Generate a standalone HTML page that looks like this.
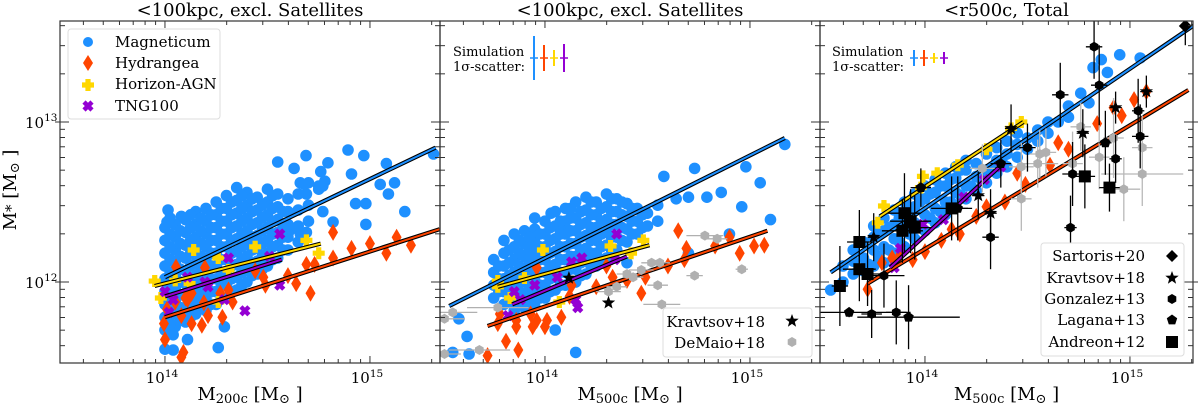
<!DOCTYPE html>
<html><head><meta charset="utf-8"><style>
html,body{margin:0;padding:0;background:#fff;width:1200px;height:404px;overflow:hidden}
svg{display:block;font-family:"DejaVu Serif","Liberation Serif",serif}
</style></head><body>
<svg id="chart" width="1200" height="404" viewBox="0 0 1200 404">
<defs>
<clipPath id="c0"><rect x="60" y="21" width="380" height="342"/></clipPath>
<clipPath id="c1"><rect x="440" y="21" width="380" height="342"/></clipPath>
<clipPath id="c2"><rect x="820" y="21" width="373" height="342"/></clipPath>
</defs>
</svg>
<script>
// ---- data (log10 masses) ----
const panelTitles = ["<100kpc, excl. Satellites","<100kpc, excl. Satellites","<r500c, Total"];
const xTickLabels = ["14","15"];
const yTickLabels = ["12","13"];
const mag1 = [[14.893,12.825],[14.688,12.79],[14.97,12.79],[14.55,12.75],[15.31,12.80],[15.08,12.74],[14.795,12.745],[14.63,12.71],[14.76,12.69],[14.91,12.675],[15.05,12.61],[15.12,12.62],[15.09,12.55],[14.93,12.49],[14.98,12.49],[15.17,12.44],[14.98,12.36],[14.82,12.375],[14.77,12.44],[14.35,12.59],[14.015,12.45],[14.08,12.41],[14.01,12.375],[14.26,11.59],[14.29,11.72],[14.11,11.64],[14.04,11.575],[14.0,11.58],[14.04,11.67],[14.61,12.325],[14.66,12.30],[14.69,12.31],[14.67,12.28],[14.6,12.3],[14.66,12.62],[14.68,12.61],[14.70,12.62],[14.75,12.60],[14.77,12.6],[14.78,12.63],[14.75,12.58],[14.69,12.55],[14.65,12.55],
[14.0,11.70],[14.0,11.78],[14.0,11.86],[14.0,11.94],[14.0,12.02],[14.0,12.10],[14.0,12.18],[14.0,12.26],[14.0,12.34],
[14.05,11.72],[14.05,11.80],[14.05,11.88],[14.05,11.96],[14.05,12.04],[14.05,12.12],[14.05,12.20],[14.05,12.28],[14.05,12.36],
[14.10,11.75],[14.10,11.83],[14.10,11.91],[14.10,11.99],[14.10,12.07],[14.10,12.15],[14.10,12.23],[14.10,12.31],[14.10,12.39],
[14.15,11.80],[14.15,11.88],[14.15,11.96],[14.15,12.04],[14.15,12.12],[14.15,12.20],[14.15,12.28],[14.15,12.36],[14.15,12.44],
[14.20,11.82],[14.20,11.90],[14.20,11.98],[14.20,12.06],[14.20,12.14],[14.20,12.22],[14.20,12.30],[14.20,12.38],[14.20,12.46],
[14.25,11.86],[14.25,11.94],[14.25,12.02],[14.25,12.10],[14.25,12.18],[14.25,12.26],[14.25,12.34],[14.25,12.42],[14.25,12.50],
[14.30,11.90],[14.30,11.98],[14.30,12.06],[14.30,12.14],[14.30,12.22],[14.30,12.30],[14.30,12.38],[14.30,12.46],[14.30,12.54],
[14.35,11.95],[14.35,12.03],[14.35,12.11],[14.35,12.19],[14.35,12.27],[14.35,12.35],[14.35,12.43],[14.35,12.51],
[14.40,12.00],[14.40,12.08],[14.40,12.16],[14.40,12.24],[14.40,12.32],[14.40,12.40],[14.40,12.48],[14.40,12.56],
[14.45,12.05],[14.45,12.13],[14.45,12.21],[14.45,12.29],[14.45,12.37],[14.45,12.45],[14.45,12.53],
[14.50,12.10],[14.50,12.18],[14.50,12.26],[14.50,12.34],[14.50,12.42],[14.50,12.50],[14.50,12.58],
[14.55,12.15],[14.55,12.23],[14.55,12.31],[14.55,12.39],[14.55,12.47],[14.55,12.55],
[14.60,12.20],[14.60,12.28],[14.60,12.36],[14.60,12.44],[14.60,12.52],
[14.65,12.25],[14.65,12.35],[14.65,12.45],[14.70,12.38],[14.70,12.48],
[14.025,11.74],[14.025,11.82],[14.025,11.90],[14.025,11.98],[14.025,12.06],[14.025,12.14],[14.025,12.22],[14.025,12.30],[14.025,12.40],
[14.075,11.76],[14.075,11.84],[14.075,11.92],[14.075,12.00],[14.075,12.08],[14.075,12.16],[14.075,12.24],[14.075,12.32],
[14.125,11.78],[14.125,11.86],[14.125,11.94],[14.125,12.02],[14.125,12.10],[14.125,12.18],[14.125,12.26],[14.125,12.34],[14.125,12.42],
[14.175,11.84],[14.175,11.92],[14.175,12.00],[14.175,12.08],[14.175,12.16],[14.175,12.24],[14.175,12.32],[14.175,12.40],
[14.225,11.86],[14.225,11.94],[14.225,12.02],[14.225,12.10],[14.225,12.18],[14.225,12.26],[14.225,12.34],[14.225,12.42],
[14.275,11.90],[14.275,11.98],[14.275,12.06],[14.275,12.14],[14.275,12.22],[14.275,12.30],[14.275,12.38],[14.275,12.46],
[14.325,11.94],[14.325,12.02],[14.325,12.10],[14.325,12.18],[14.325,12.26],[14.325,12.34],[14.325,12.42],[14.325,12.50],
[14.375,11.98],[14.375,12.06],[14.375,12.14],[14.375,12.22],[14.375,12.30],[14.375,12.38],[14.375,12.46],[14.375,12.54],
[14.425,12.04],[14.425,12.12],[14.425,12.20],[14.425,12.28],[14.425,12.36],[14.425,12.44],[14.425,12.52],
[14.475,12.08],[14.475,12.16],[14.475,12.24],[14.475,12.32],[14.475,12.40],[14.475,12.48],
[14.525,12.14],[14.525,12.22],[14.525,12.30],[14.525,12.38],[14.525,12.46],[14.525,12.54],
[14.575,12.20],[14.575,12.28],[14.575,12.36],[14.575,12.44]];
const hyd1 = [[14.054,12.094],[14.195,12.09],[14.82,12.31],[14.91,12.21],[15.0,12.24],[15.13,12.28],[15.2,12.23],[15.08,12.18],[14.82,12.15],[14.73,12.11],[14.69,12.11],[14.64,11.99],[14.71,11.93],[14.6,12.04],[14.48,12.03],[14.49,11.98],[14.44,12.07],[14.31,11.95],[14.28,11.78],[14.21,11.79],[14.18,11.73],[14.13,11.74],[14.08,11.79],[14.09,11.56],[14.08,11.53],[14.0,11.64],[13.995,11.74],[14.01,11.83],[14.05,11.875],[14.11,11.89],[14.13,11.93],[14.19,11.87],[14.33,11.875],[14.27,11.93],[14.1,11.9]];
const hor1 = [[14.14,12.2],[14.44,12.22],[14.69,12.26],[14.75,12.18],[14.26,12.15],[13.95,12.006],[13.98,11.9],[14.05,12.01],[14.12,11.99],[14.26,11.875],[14.31,12.075]];
const tng1 = [[14.56,12.3],[14.31,12.15],[14.51,12.16],[14.56,11.98],[14.39,11.82],[14.11,12.03],[14.195,12.0],[14.21,11.97],[14.0,11.94],[14.04,11.89],[14.29,11.89],[14.02,11.81]];
const fits1 = {blue:[14.0,12.03,15.32,12.84], red:[14.0,11.78,15.34,12.33], gold:[13.95,11.975,14.76,12.24], violet:[14.0,11.91,14.57,12.14]};

const mag2 = [[15.17,12.86],[14.73,12.71],[14.58,12.66],[14.98,12.72],[15.05,12.62],[14.86,12.56],[14.96,12.47],[15.10,12.39],[14.64,12.52],[14.70,12.53],[14.79,12.53],[14.90,12.30],[14.40,12.49],[13.95,12.40],[14.03,12.43],[14.10,12.34],[14.40,12.12],[14.15,11.56],[14.05,11.70],[13.62,11.66],[13.55,11.56],[13.63,11.55],[13.58,11.77],[14.70,12.18],
[13.75,11.90],[13.75,11.98],[13.75,12.06],[13.75,12.14],
[13.80,11.86],[13.80,11.94],[13.80,12.02],[13.80,12.10],[13.80,12.18],[13.80,12.26],
[13.85,11.82],[13.85,11.90],[13.85,11.98],[13.85,12.06],[13.85,12.14],[13.85,12.22],[13.85,12.30],
[13.90,11.84],[13.90,11.92],[13.90,12.00],[13.90,12.08],[13.90,12.16],[13.90,12.24],[13.90,12.32],
[13.95,11.85],[13.95,11.93],[13.95,12.01],[13.95,12.09],[13.95,12.17],[13.95,12.25],[13.95,12.33],
[14.00,11.90],[14.00,11.98],[14.00,12.06],[14.00,12.14],[14.00,12.22],[14.00,12.30],[14.00,12.38],
[14.05,11.95],[14.05,12.03],[14.05,12.11],[14.05,12.19],[14.05,12.27],[14.05,12.35],[14.05,12.44],
[14.10,11.98],[14.10,12.06],[14.10,12.14],[14.10,12.22],[14.10,12.30],[14.10,12.38],[14.10,12.46],
[14.15,12.00],[14.15,12.08],[14.15,12.16],[14.15,12.24],[14.15,12.32],[14.15,12.40],[14.15,12.50],
[14.20,12.05],[14.20,12.13],[14.20,12.21],[14.20,12.29],[14.20,12.37],[14.20,12.45],[14.20,12.53],
[14.25,12.10],[14.25,12.18],[14.25,12.26],[14.25,12.34],[14.25,12.42],[14.25,12.50],
[14.30,12.15],[14.30,12.23],[14.30,12.31],[14.30,12.39],[14.30,12.47],[14.30,12.55],
[14.35,12.20],[14.35,12.28],[14.35,12.36],[14.35,12.44],[14.35,12.52],
[14.40,12.25],[14.40,12.33],[14.40,12.41],[14.40,12.49],
[14.45,12.30],[14.45,12.38],[14.45,12.46],[14.50,12.35],[14.50,12.43],[14.55,12.38],[14.55,12.48],
[13.775,11.94],[13.775,12.02],[13.775,12.10],
[13.825,11.88],[13.825,11.96],[13.825,12.04],[13.825,12.12],[13.825,12.20],
[13.875,11.86],[13.875,11.94],[13.875,12.02],[13.875,12.10],[13.875,12.18],[13.875,12.26],
[13.925,11.88],[13.925,11.96],[13.925,12.04],[13.925,12.12],[13.925,12.20],[13.925,12.28],
[13.975,11.90],[13.975,11.98],[13.975,12.06],[13.975,12.14],[13.975,12.22],[13.975,12.30],
[14.025,11.94],[14.025,12.02],[14.025,12.10],[14.025,12.18],[14.025,12.26],[14.025,12.34],
[14.075,11.98],[14.075,12.06],[14.075,12.14],[14.075,12.22],[14.075,12.30],[14.075,12.38],
[14.125,12.00],[14.125,12.08],[14.125,12.16],[14.125,12.24],[14.125,12.32],[14.125,12.40],[14.125,12.46],
[14.175,12.04],[14.175,12.12],[14.175,12.20],[14.175,12.28],[14.175,12.36],[14.175,12.44],
[14.225,12.10],[14.225,12.18],[14.225,12.26],[14.225,12.34],[14.225,12.42],[14.225,12.50],
[14.275,12.14],[14.275,12.22],[14.275,12.30],[14.275,12.38],[14.275,12.46],
[14.325,12.20],[14.325,12.28],[14.325,12.36],[14.325,12.44],[14.325,12.52],
[14.375,12.26],[14.375,12.34],[14.375,12.42],[14.375,12.50],
[14.425,12.30],[14.425,12.38],[14.425,12.46],[14.475,12.34],[14.475,12.42]];
const hyd2 = [[14.65,12.32],[14.69,12.21],[14.68,12.14],[14.9,12.28],[14.95,12.18],[15.02,12.225],[15.07,12.23],[14.83,12.225],[14.6,12.1],[14.47,11.93],[14.49,12.03],[14.4,12.01],[14.33,12.03],[14.3,12.1],[14.25,11.97],[14.13,11.98],[14.12,11.91],[14.08,11.78],[14.01,11.76],[14.0,11.72],[13.96,11.76],[13.96,12.09],[13.93,11.8],[13.94,11.72],[13.86,11.76],[13.86,11.72],[13.81,11.63],[13.87,11.575],[13.72,11.54],[13.78,11.8],[13.77,11.74]];
const hor2 = [[13.99,12.2],[14.32,12.225],[14.48,12.26],[14.42,12.18],[13.90,12.025],[13.77,12.006],[13.77,11.97],[13.83,11.9],[14.07,11.875]];
const tng2 = [[14.35,12.3],[14.13,12.125],[14.18,12.15],[14.34,12.14],[14.06,12.03],[13.95,11.98],[13.85,11.94],[13.82,11.79],[14.16,11.84],[14.15,11.89],[13.88,11.89]];
const fits2 = {blue:[13.533,11.85,15.17,12.9], red:[13.72,11.725,15.085,12.32], gold:[13.77,11.97,14.51,12.23], violet:[13.84,11.86,14.4,12.16]};
// DeMaio+18: [lx, ly, xerr]
const demaio2 = [[13.55,11.81,0.12],[13.51,11.77,0.1],[13.77,11.84,0.15],[13.51,11.55,0.08],[13.68,11.575,0.15],[14.31,11.94,0.06],[14.35,11.97,0.05],[14.4,12.05,0.05],[14.47,12.075,0.06],[14.52,12.12,0.05],[14.56,12.12,0.05],[14.55,11.98,0.05],[14.57,11.86,0.09],[14.73,12.04,0.04],[14.78,12.29,0.09],[14.84,12.27,0.05],[14.96,12.08,0.03],[14.43,12.03,0.05]];
const kravtsov2 = [[14.117,12.025],[14.31,11.87]];

const mag3 = [[13.54,11.95],[13.60,12.0],[13.60,12.1],[13.65,12.05],[13.65,12.13],[13.65,12.2],[13.70,12.07],[13.70,12.15],[13.70,12.25],[13.75,12.1],[13.75,12.2],[13.75,12.28],[13.75,12.35],[13.80,12.12],[13.80,12.22],[13.80,12.32],[13.80,12.4],[13.85,12.18],[13.85,12.27],[13.85,12.36],[13.85,12.45],[13.90,12.22],[13.90,12.32],[13.90,12.42],[13.90,12.5],[13.95,12.27],[13.95,12.37],[13.95,12.47],[13.95,12.55],[14.00,12.32],[14.00,12.42],[14.00,12.52],[14.00,12.6],[14.05,12.37],[14.05,12.46],[14.05,12.56],[14.05,12.64],[14.10,12.42],[14.10,12.5],[14.10,12.6],[14.10,12.68],[14.15,12.48],[14.15,12.56],[14.15,12.65],[14.15,12.72],[14.20,12.52],[14.20,12.6],[14.20,12.7],[14.20,12.76],[14.25,12.57],[14.25,12.66],[14.25,12.74],[14.30,12.62],[14.30,12.7],[14.30,12.8],[14.35,12.68],[14.35,12.76],[14.35,12.84],[14.40,12.72],[14.40,12.8],[14.40,12.88],[14.45,12.78],[14.45,12.86],[14.45,12.93],[14.50,12.83],[14.50,12.9],[14.55,12.88],[14.55,12.95],[14.6,12.93],[14.6,13.0],[14.65,13.0],[14.7,13.03],[14.7,13.1],[14.8,13.12],[14.82,13.34],[14.86,13.39],[14.95,13.42],[15.05,13.4],[14.89,13.31],[14.76,13.18],
[13.725,12.11],[13.775,12.16],[13.775,12.30],[13.825,12.20],[13.825,12.34],[13.875,12.25],[13.875,12.40],[13.925,12.30],[13.925,12.45],[13.975,12.34],[13.975,12.50],[14.025,12.40],[14.025,12.55],[14.075,12.44],[14.075,12.60],[14.125,12.50],[14.125,12.64],[14.175,12.54],[14.175,12.70],[14.225,12.60],[14.275,12.64],[14.325,12.70],[14.375,12.76]];
const hyd3 = [[13.72,11.955],[13.79,12.12],[13.88,12.17],[13.94,12.14],[14.0,12.19],[14.08,12.26],[14.17,12.3],[14.13,12.33],[14.25,12.41],[14.3,12.47],[14.39,12.5],[14.49,12.61],[14.45,12.68],[14.61,12.73],[14.65,12.87],[14.7,12.83],[14.84,12.99],[14.92,13.09],[14.96,13.04],[15.02,13.14],[15.08,13.19],[13.84,12.15]];
const hor3 = [[14.47,13.0],[14.42,12.96],[14.3,12.83],[14.16,12.73],[14.06,12.68],[13.99,12.66],[13.8,12.475],[13.77,12.37],[13.98,12.59]];
const tng3 = [[14.37,12.72],[14.29,12.64],[14.19,12.53],[14.09,12.39],[13.99,12.36],[13.88,12.21],[13.85,12.09]];
const fits3 = {blue:[13.54,12.06,15.33,13.62], red:[13.72,11.99,15.285,13.2], gold:[13.78,12.41,14.48,13.0], violet:[13.83,12.09,14.38,12.74]};
// observational: [lx, ly, xerr, yerr]
const grey3 = [[14.47,12.52,0.05,0.2],[14.28,12.71,0.06,0.15],[14.47,12.72,0.06,0.15],[14.56,12.8,0.05,0.15],[14.59,12.81,0.05,0.15],[14.72,12.74,0.05,0.2],[14.76,12.97,0.05,0.15],[14.85,12.78,0.05,0.2],[14.92,12.9,0.05,0.25],[15.06,12.84,0.05,0.2],[15.06,12.675,0.2,0.2],[14.97,12.58,0.08,0.2],[14.55,12.74,0.1,0.15]];
const sartoris3 = [[15.27,13.6,0.0,0.12]];
const gonzalez3 = [[14.825,13.47,0.04,0.2],[14.85,13.23,0.04,0.25],[14.66,13.17,0.04,0.2],[14.5,12.84,0.04,0.15],[15.04,13.07,0.03,0.2],[15.05,12.91,0.04,0.2],[14.93,12.77,0.03,0.15],[14.72,12.675,0.05,0.2],[14.32,12.28,0.04,0.2],[14.71,12.34,0.03,0.2],[13.74,11.8,0.05,0.15],[13.86,11.81,0.05,0.2],[13.8,12.04,0.1,0.2]];
const kravtsov3 = [[15.08,13.19,0.03,0.1],[14.93,13.09,0.03,0.1],[14.77,12.93,0.03,0.15],[14.42,12.96,0.03,0.15],[14.26,12.54,0.03,0.15],[14.32,12.43,0.03,0.15],[13.75,12.28,0.03,0.15]];
const lagana3 = [[14.37,12.74,0.05,0.15],[13.98,12.59,0.05,0.12],[14.16,12.46,0.05,0.2],[14.88,12.87,0.03,0.2],[13.63,11.81,0.3,0.03],[13.92,11.78,0.25,0.2]];
const andreon3 = [[13.9,12.43,0.08,0.25],[13.93,12.38,0.1,0.2],[13.89,12.32,0.1,0.2],[13.95,12.34,0.08,0.2],[13.68,12.25,0.06,0.2],[13.68,12.08,0.08,0.2],[13.72,12.05,0.06,0.2],[13.585,11.975,0.04,0.25],[14.13,12.46,0.1,0.2],[14.78,12.66,0.05,0.2],[14.9,12.59,0.05,0.15]];

// ---- axes ----
const NS = "http://www.w3.org/2000/svg";
const svg = document.getElementById("chart");
const lefts = [60,440,820], rights=[440,820,1193];
const TOP=21, BOT=363;
function xs(p,lx){return lefts[p]+(lx-13.488)*205;}
function ys(ly){return 282-(ly-12)*160;}
function mk(tag,attrs,parent){const e=document.createElementNS(NS,tag);for(const k in attrs)e.setAttribute(k,attrs[k]);(parent||svg).appendChild(e);return e;}
const C={blue:"#1e90ff",red:"#ff4500",gold:"#ffd700",violet:"#9400d3"};

function circle(g,x,y,r,fill){return mk("circle",{cx:x,cy:y,r:r,fill:fill},g);}
function diamond(g,x,y,w,h,fill){return mk("polygon",{points:`${x},${y-h} ${x+w},${y} ${x},${y+h} ${x-w},${y}`,fill:fill},g);}
function plus(g,x,y,s,t,fill){return mk("path",{d:`M${x-t},${y-s}h${2*t}v${s-t}h${s-t}v${2*t}h${-(s-t)}v${s-t}h${-2*t}v${-(s-t)}h${-(s-t)}v${-2*t}h${s-t}z`,fill:fill},g);}
function cross(g,x,y,s,fill){return mk("path",{d:`M${x-s},${y-s}L${x+s},${y+s}M${x+s},${y-s}L${x-s},${y+s}`,stroke:fill,"stroke-width":4.5,fill:"none"},g);}
function star(g,x,y,r,fill){let d="";for(let i=0;i<10;i++){const a=-Math.PI/2+i*Math.PI/5,rr=i%2?r*0.42:r;d+=(i?"L":"M")+(x+rr*Math.cos(a)).toFixed(1)+","+(y+rr*Math.sin(a)).toFixed(1);}return mk("path",{d:d+"Z",fill:fill},g);}
function poly(g,x,y,r,n,rot,fill){let d="";for(let i=0;i<n;i++){const a=rot+i*2*Math.PI/n;d+=(i?"L":"M")+(x+r*Math.cos(a)).toFixed(1)+","+(y+r*Math.sin(a)).toFixed(1);}return mk("path",{d:d+"Z",fill:fill},g);}

function drawPanel(p, mag, hyd, hor, tng, fits){
  const g=mk("g",{"clip-path":`url(#c${p})`});
  
  
  const gm=mk("g",{},g);
  mag.forEach(d=>circle(gm,xs(p,d[0]),ys(d[1]),5.8,C.blue));
  const gh=mk("g",{},g);
  hyd.forEach(d=>diamond(gh,xs(p,d[0]),ys(d[1]),5,8.5,C.red));
  const gy=mk("g",{},g);
  hor.forEach(d=>plus(gy,xs(p,d[0]),ys(d[1]),6,2.6,C.gold));
  const gt=mk("g",{},g);
  tng.forEach(d=>cross(gt,xs(p,d[0]),ys(d[1]),4,C.violet));
  for(const k of ["blue","red","gold","violet"]){
    const f=fits[k];
    const l1=mk("line",{x1:xs(p,f[0]),y1:ys(f[1]),x2:xs(p,f[2]),y2:ys(f[3]),stroke:"#000","stroke-width":4.2},g);
    
    const l2=mk("line",{x1:xs(p,f[0]),y1:ys(f[1]),x2:xs(p,f[2]),y2:ys(f[3]),stroke:C[k],"stroke-width":2},g);
    
  }
  return g;
}
function errbars(g,p,arr,color){
  arr.forEach(d=>{
    const x=xs(p,d[0]),y=ys(d[1]);
    if(d[2]>0) mk("line",{x1:xs(p,d[0]-d[2]),x2:xs(p,d[0]+d[2]),y1:y,y2:y,stroke:color,"stroke-width":1.3},g);
    if(d[3]>0) mk("line",{x1:x,x2:x,y1:ys(d[1]-d[3]),y2:ys(d[1]+d[3]),stroke:color,"stroke-width":1.3},g);
  });
}

const g1=drawPanel(0,mag1,hyd1,hor1,tng1,fits1);
const g2=drawPanel(1,mag2,hyd2,hor2,tng2,fits2);
const gd=mk("g",{},g2);
demaio2.forEach(d=>{mk("line",{x1:xs(1,d[0]-d[2]),x2:xs(1,d[0]+d[2]),y1:ys(d[1]),y2:ys(d[1]),stroke:"#b0b0b0","stroke-width":1.3},gd);poly(gd,xs(1,d[0]),ys(d[1]),5,6,Math.PI/6,"#b0b0b0");});
const gk=mk("g",{},g2);
kravtsov2.forEach(d=>star(gk,xs(1,d[0]),ys(d[1]),7,"#000"));

const g3=drawPanel(2,mag3,hyd3,hor3,tng3,fits3);
const go=mk("g",{},g3);
errbars(go,2,grey3,"#b8b8b8");
grey3.forEach(d=>poly(go,xs(2,d[0]),ys(d[1]),5,6,Math.PI/6,"#b0b0b0"));
errbars(go,2,sartoris3,"#000");errbars(go,2,gonzalez3,"#000");errbars(go,2,kravtsov3,"#000");errbars(go,2,lagana3,"#000");errbars(go,2,andreon3,"#000");
sartoris3.forEach(d=>diamond(go,xs(2,d[0]),ys(d[1]),6.5,6.5,"#000"));
gonzalez3.forEach(d=>poly(go,xs(2,d[0]),ys(d[1]),5,6,Math.PI/6,"#000"));
kravtsov3.forEach(d=>star(go,xs(2,d[0]),ys(d[1]),7,"#000"));
lagana3.forEach(d=>poly(go,xs(2,d[0]),ys(d[1]),5.5,5,-Math.PI/2,"#000"));
andreon3.forEach(d=>mk("rect",{x:xs(2,d[0])-6,y:ys(d[1])-6,width:12,height:12,fill:"#000"},go));

// frames, ticks
for(let p=0;p<3;p++){
  const L=lefts[p],R=rights[p];
  const fr=mk("rect",{x:L,y:TOP,width:R-L,height:BOT-TOP,fill:"none",stroke:"#333","stroke-width":1.2});
  
  for(let dec=13;dec<=15;dec++)for(let k=1;k<10;k++){
    const lx=dec+Math.log10(k);const x=xs(p,lx);
    if(x<=L+0.5||x>=R-0.5)continue;
    const len=k===1?7:4;
    mk("line",{x1:x,x2:x,y1:BOT,y2:BOT-len,stroke:"#333","stroke-width":1});
    mk("line",{x1:x,x2:x,y1:TOP,y2:TOP+len,stroke:"#333","stroke-width":1});
  }
  for(let dec=11;dec<=13;dec++)for(let k=1;k<10;k++){
    const ly=dec+Math.log10(k);const y=ys(ly);
    if(y<=TOP+0.5||y>=BOT-0.5)continue;
    const len=k===1?9:5;
    mk("line",{x1:L-(k===1?5:0),x2:L+len,y1:y,y2:y,stroke:"#333","stroke-width":1});
    mk("line",{x1:R+(k===1?5:0),x2:R-len,y1:y,y2:y,stroke:"#333","stroke-width":1});
  }
  xTickLabels.forEach(t=>{
    const x=xs(p,+t);
    const tx=mk("text",{x:x-3,y:383,"font-size":15,"text-anchor":"middle",fill:"#000"});
    
    tx.textContent="10";
    const sp=mk("tspan",{dy:-6,"font-size":10.5},tx);sp.textContent=t;
  });
  const ti=mk("text",{x:(L+R)/2,y:16,"font-size":18,"text-anchor":"middle",fill:"#000"});
  
  ti.textContent=panelTitles[p];
  const xl=mk("text",{x:(L+R)/2,y:400,"font-size":18,"text-anchor":"middle",fill:"#000"});
  
  xl.textContent="M";
  const sub=mk("tspan",{"font-size":13,dy:3},xl);sub.textContent=p===0?"200c":"500c";
  const rest=mk("tspan",{dy:-3},xl);rest.textContent=" [M";
  const sun=mk("tspan",{"font-size":13,dy:3},xl);sun.textContent="⊙";
  const cl=mk("tspan",{dy:-3},xl);cl.textContent=" ]";
}
yTickLabels.forEach(t=>{
  const y=ys(+t);
  const tx=mk("text",{x:25,y:y+6,"font-size":15,fill:"#000"});
  
  tx.textContent="10";
  const sp=mk("tspan",{dy:-7,"font-size":10.5},tx);sp.textContent=t;
});
const yl=mk("text",{x:0,y:0,"font-size":18,"text-anchor":"middle",fill:"#000",transform:"translate(16,190) rotate(-90)"});

yl.textContent="M";
const ys1=mk("tspan",{"font-size":15},yl);ys1.textContent="*";
const ys2=mk("tspan",{},yl);ys2.textContent=" [M";
const ys3=mk("tspan",{"font-size":13,dy:3},yl);ys3.textContent="⊙";
const ys4=mk("tspan",{dy:-3},yl);ys4.textContent=" ]";

// legend panel 1
const lg=mk("g",{});
mk("rect",{x:68,y:29,width:152,height:90,rx:3,fill:"#fff",stroke:"#ddd","stroke-width":1},lg);
const entries=[["Magneticum",42],["Hydrangea",63],["Horizon-AGN",84],["TNG100",106]];
entries.forEach((e,i)=>{
  const t=mk("text",{x:115,y:e[1]+5,"font-size":15,fill:"#000"},lg);
  t.textContent=e[0];
});
circle(lg,88,42,5,C.blue);diamond(lg,88,63,5,8,C.red);plus(lg,88,85,6,2.6,C.gold);cross(lg,88,106,4,C.violet);

// sigma legends
function sigLegend(x0,y0,xl,bars,name){
  const g=mk("g",{});
  const t1=mk("text",{x:x0,y:y0,"font-size":13,fill:"#000"},g);t1.textContent="Simulation";
  const t2=mk("text",{x:x0,y:y0+15,"font-size":13,fill:"#000"},g);t2.textContent="1σ-scatter:";
  bars.forEach((b,i)=>{
    mk("line",{x1:xl[i],x2:xl[i],y1:58-b[1],y2:58+b[1],stroke:C[b[0]],"stroke-width":2},g);
    mk("line",{x1:xl[i]-4,x2:xl[i]+4,y1:58,y2:58,stroke:C[b[0]],"stroke-width":1.5},g);
  });
}
sigLegend(453,56,[534,544,554,564],[["blue",22],["red",13],["gold",8],["violet",14]],"scatter-legend-panel-2");
sigLegend(832,56,[914,924,934,944],[["blue",8],["red",8],["gold",5],["violet",6]],"scatter-legend-panel-3");

// legend panel 2
const l2=mk("g",{});
mk("rect",{x:663,y:308,width:149,height:49,rx:3,fill:"#fff",stroke:"#ddd"},l2);
const t21=mk("text",{x:765,y:327,"font-size":15,"text-anchor":"end"},l2);t21.textContent="Kravtsov+18";
const t22=mk("text",{x:765,y:348,"font-size":15,"text-anchor":"end"},l2);t22.textContent="DeMaio+18";
star(l2,792,321,7,"#000");poly(l2,792,342,5,6,Math.PI/6,"#b0b0b0");

// legend panel 3
const l3=mk("g",{});
mk("rect",{x:1041,y:243,width:143,height:113,rx:3,fill:"#fff",stroke:"#ddd"},l3);
const obsNames=[["Sartoris+20",256],["Kravtsov+18",278],["Gonzalez+13",299],["Lagana+13",320],["Andreon+12",342]];
obsNames.forEach(o=>{const t=mk("text",{x:1145,y:o[1]+5,"font-size":15,"text-anchor":"end"},l3);
  t.textContent=o[0];});
diamond(l3,1172,256,6,6,"#000");star(l3,1172,278,7,"#000");poly(l3,1172,299,5,6,Math.PI/6,"#000");poly(l3,1172,320,5.5,5,-Math.PI/2,"#000");
mk("rect",{x:1166,y:336,width:12,height:12,fill:"#000"},l3);
</script>
</body></html>
